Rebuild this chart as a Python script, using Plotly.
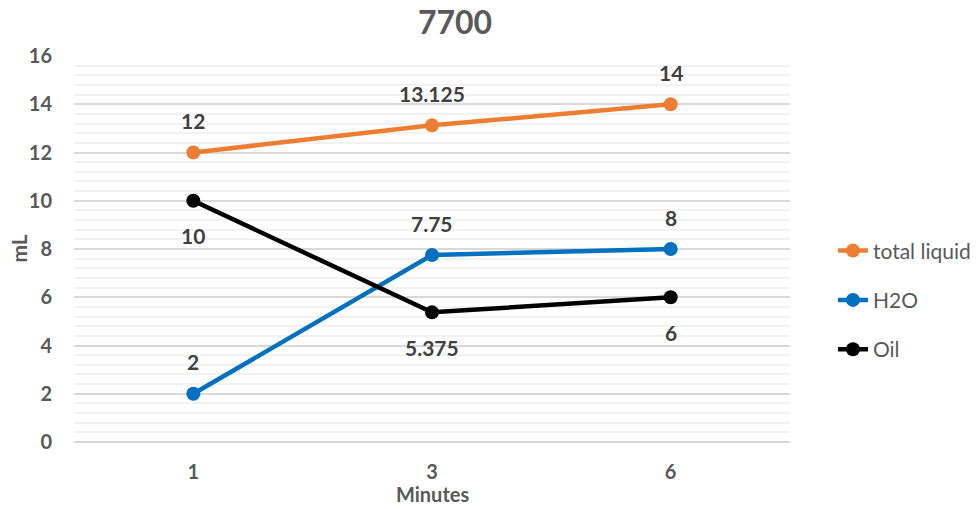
import plotly.graph_objects as go

# Measurement times and volumes (mL)
minutes = ["1", "3", "6"]
total_liquid = [12, 13.125, 14]
h2o = [2, 7.75, 8]
oil = [10, 5.375, 6]

series_names = ["total liquid", "H2O", "Oil"]
series_values = [total_liquid, h2o, oil]
series_colors = ["#ED7D31", "#0070C0", "#000000"]
# label offset in px: above (+) or below (-) each marker
label_shift = [32, 32, -35]

FONT = "Lato"
TEXT_GRAY = "#595959"
LABEL_GRAY = "#404040"

fig = go.Figure()
for i, (name, vals, col) in enumerate(zip(series_names, series_values, series_colors)):
    fig.add_trace(go.Scatter(
        x=minutes, y=vals, name=name, mode="lines+markers",
        line=dict(color=col, width=4.5),
        marker=dict(color=col, size=14),
        legendgroup=f"g{i}",
    ))
    # value labels; category positions are addressed by index
    for k, yv in enumerate(vals):
        fig.add_annotation(
            x=k, y=yv, text=f"<b>{yv:g}</b>", showarrow=False,
            yshift=label_shift[i],
            font=dict(family=FONT, size=21, color=LABEL_GRAY),
        )

# y-axis title
fig.add_annotation(
    x=(17 - 73.5) / 717, xref="paper", y=0.5, yref="paper", text="<b>mL</b>", textangle=-90,
    showarrow=False, xanchor="center", yanchor="middle",
    font=dict(family=FONT, size=21, color=TEXT_GRAY),
)
# x-axis title
fig.add_annotation(
    x=0.5, xref="paper", y=0, yref="paper", yshift=-52, yanchor="middle", text="<b>Minutes</b>",
    showarrow=False,
    font=dict(family=FONT, size=20, color=TEXT_GRAY),
)

fig.update_layout(
    width=980, height=509,
    margin=dict(l=73.5, r=189.5, t=55.7, b=67, autoexpand=False),
    paper_bgcolor="white", plot_bgcolor="white",
    title=dict(text="<b>7700</b>", x=455 / 980, xanchor="center", y=0.955, yanchor="middle",
               font=dict(family=FONT, size=32, color=TEXT_GRAY)),
    font=dict(family=FONT, color=TEXT_GRAY),
    showlegend=True,
    legend=dict(x=1.06, xanchor="left", y=0.368, yanchor="middle",
                font=dict(family=FONT, size=21, color=TEXT_GRAY),
                tracegroupgap=19, bgcolor="rgba(0,0,0,0)"),
    xaxis=dict(
        type="category", range=[-0.5, 2.5], showgrid=False, zeroline=False,
        showline=False, ticks="",
        tickfont=dict(family=FONT, size=20, color=TEXT_GRAY, weight="bold"),
        ticklabelstandoff=16,
    ),
    yaxis=dict(
        range=[0, 16], dtick=2, tick0=0, showgrid=True, gridcolor="#D9D9D9", gridwidth=1.5,
        zeroline=True, zerolinecolor="#D9D9D9", zerolinewidth=1.5,
        showline=False, ticks="",
        tickfont=dict(family=FONT, size=20, color=TEXT_GRAY, weight="bold"),
        ticklabelstandoff=21,
        minor=dict(dtick=0.4, tick0=0, showgrid=True, gridcolor="#F2F2F2", gridwidth=1.5),
    ),
)

fig.write_html("out.html")
